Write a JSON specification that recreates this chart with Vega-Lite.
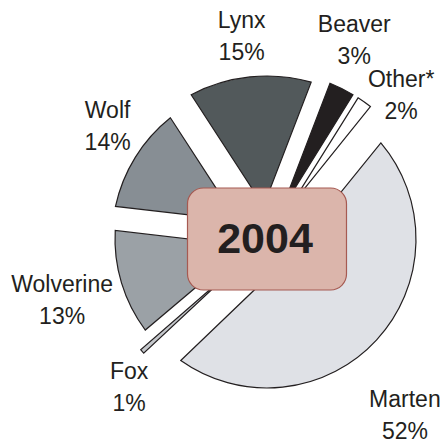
{
  "$schema": "https://vega.github.io/schema/vega-lite/v6.json",
  "width": 300,
  "height": 300,
  "autosize": {"type": "none"},
  "padding": {"left": 117, "top": 89, "right": 26, "bottom": 54},
  "background": "white",
  "view": {"stroke": null},
  "config": {"font": "Liberation Sans", "text": {"fontSize": 23, "color": "#231f20", "baseline": "middle", "align": "center"}},
  "data": {
    "values": [
      {"animal": "Lynx", "share": 0.15, "rank": 1},
      {"animal": "Beaver", "share": 0.03, "rank": 2},
      {"animal": "Other*", "share": 0.02, "rank": 3},
      {"animal": "Marten", "share": 0.52, "rank": 4},
      {"animal": "Fox", "share": 0.01, "rank": 5},
      {"animal": "Wolverine", "share": 0.13, "rank": 6},
      {"animal": "Wolf", "share": 0.14, "rank": 7}
    ]
  },
  "layer": [
    {
      "encoding": {
        "theta": {"field": "share", "type": "quantitative", "stack": true, "scale": {"domain": [0, 1], "range": [-0.57596, 5.70723]}},
        "order": {"field": "rank", "type": "quantitative"},
        "detail": {"field": "animal", "type": "nominal"}
      },
      "layer": [
        {
          "mark": {"type": "arc", "radius": 163, "radius2": 40, "padAngle": 0.179, "stroke": "#231f20", "strokeWidth": 1.2},
          "encoding": {
            "color": {"field": "animal", "type": "nominal", "legend": null, "scale": {"domain": ["Lynx", "Beaver", "Other*", "Marten", "Fox", "Wolverine", "Wolf"], "range": ["#52595b", "#231f20", "#ffffff", "#dfe1e6", "#c5c8cc", "#9ba1a6", "#878e94"]}},
            "opacity": {"condition": {"test": "datum.animal === 'Lynx'", "value": 1}, "value": 0}
          }
        },
        {
          "mark": {"type": "arc", "radius": 155, "radius2": 40, "padAngle": 0.1877, "stroke": "#231f20", "strokeWidth": 1.2},
          "encoding": {
            "color": {"field": "animal", "type": "nominal", "legend": null},
            "opacity": {"condition": {"test": "datum.animal === 'Wolf'", "value": 1}, "value": 0}
          }
        },
        {
          "mark": {"type": "arc", "radius": 152, "radius2": 40, "padAngle": 0.1146, "stroke": "#231f20", "strokeWidth": 1.2},
          "encoding": {
            "color": {"field": "animal", "type": "nominal", "legend": null},
            "opacity": {"condition": {"test": "datum.animal === 'Wolverine'", "value": 1}, "value": 0}
          }
        },
        {
          "mark": {"type": "arc", "radius": 168, "radius2": 40, "padAngle": 0.0347, "stroke": "#231f20", "strokeWidth": 1.2},
          "encoding": {
            "color": {"field": "animal", "type": "nominal", "legend": null},
            "opacity": {"condition": {"test": "indexof(['Beaver','Other*','Fox'], datum.animal) >= 0", "value": 1}, "value": 0}
          }
        },
        {
          "mark": {"type": "arc", "radius": 149, "radius2": 40, "padAngle": 0.365, "stroke": "#231f20", "strokeWidth": 1.2},
          "encoding": {
            "color": {"field": "animal", "type": "nominal", "legend": null},
            "opacity": {"condition": {"test": "datum.animal === 'Marten'", "value": 1}, "value": 0}
          }
        },
        {
          "mark": {"type": "text", "radius": 204, "thetaOffset": -0.02, "dy": -16},
          "encoding": {"text": {"condition": {"test": "datum.animal === 'Lynx'", "field": "animal", "type": "nominal"}, "value": ""}}
        },
        {
          "mark": {"type": "text", "radius": 204, "thetaOffset": -0.02, "dy": 16},
          "encoding": {"text": {"condition": {"test": "datum.animal === 'Lynx'", "field": "share", "type": "quantitative", "format": ".0%"}, "value": ""}}
        },
        {
          "mark": {"type": "text", "radius": 214, "dy": -16},
          "encoding": {"text": {"condition": {"test": "datum.animal === 'Wolverine'", "field": "animal", "type": "nominal"}, "value": ""}}
        },
        {
          "mark": {"type": "text", "radius": 214, "dy": 16},
          "encoding": {"text": {"condition": {"test": "datum.animal === 'Wolverine'", "field": "share", "type": "quantitative", "format": ".0%"}, "value": ""}}
        },
        {
          "mark": {"type": "text", "radius": 216, "thetaOffset": -0.045, "dy": -16},
          "encoding": {"text": {"condition": {"test": "datum.animal === 'Beaver'", "field": "animal", "type": "nominal"}, "value": ""}}
        },
        {
          "mark": {"type": "text", "radius": 216, "thetaOffset": -0.045, "dy": 16},
          "encoding": {"text": {"condition": {"test": "datum.animal === 'Beaver'", "field": "share", "type": "quantitative", "format": ".0%"}, "value": ""}}
        },
        {
          "mark": {"type": "text", "radius": 196, "thetaOffset": 0.136, "dy": -16},
          "encoding": {"text": {"condition": {"test": "datum.animal === 'Other*'", "field": "animal", "type": "nominal"}, "value": ""}}
        },
        {
          "mark": {"type": "text", "radius": 196, "thetaOffset": 0.136, "dy": 16},
          "encoding": {"text": {"condition": {"test": "datum.animal === 'Other*'", "field": "share", "type": "quantitative", "format": ".0%"}, "value": ""}}
        },
        {
          "mark": {"type": "text", "radius": 224, "thetaOffset": 0.164, "dy": -16},
          "encoding": {"text": {"condition": {"test": "datum.animal === 'Marten'", "field": "animal", "type": "nominal"}, "value": ""}}
        },
        {
          "mark": {"type": "text", "radius": 224, "thetaOffset": 0.164, "dy": 16},
          "encoding": {"text": {"condition": {"test": "datum.animal === 'Marten'", "field": "share", "type": "quantitative", "format": ".0%"}, "value": ""}}
        },
        {
          "mark": {"type": "text", "radius": 203, "thetaOffset": -0.091, "dy": -16},
          "encoding": {"text": {"condition": {"test": "datum.animal === 'Fox'", "field": "animal", "type": "nominal"}, "value": ""}}
        },
        {
          "mark": {"type": "text", "radius": 203, "thetaOffset": -0.091, "dy": 16},
          "encoding": {"text": {"condition": {"test": "datum.animal === 'Fox'", "field": "share", "type": "quantitative", "format": ".0%"}, "value": ""}}
        },
        {
          "mark": {"type": "text", "radius": 195, "thetaOffset": 0.059, "dy": -16},
          "encoding": {"text": {"condition": {"test": "datum.animal === 'Wolf'", "field": "animal", "type": "nominal"}, "value": ""}}
        },
        {
          "mark": {"type": "text", "radius": 195, "thetaOffset": 0.059, "dy": 16},
          "encoding": {"text": {"condition": {"test": "datum.animal === 'Wolf'", "field": "share", "type": "quantitative", "format": ".0%"}, "value": ""}}
        }
      ]
    },
    {
      "data": {"values": [{"year": "2004"}]},
      "layer": [
        {
          "mark": {
            "type": "point",
            "shape": "M -0.8 -0.6415 L 0.8 -0.6415 A 0.2 0.2 0 0 1 1 -0.4415 L 1 0.4415 A 0.2 0.2 0 0 1 0.8 0.6415 L -0.8 0.6415 A 0.2 0.2 0 0 1 -1 0.4415 L -1 -0.4415 A 0.2 0.2 0 0 1 -0.8 -0.6415 Z",
            "size": 25281,
            "filled": true,
            "fill": "#dbb5ab",
            "stroke": "#a65a52",
            "strokeWidth": 1.2,
            "opacity": 1
          },
          "encoding": {}
        },
        {
          "mark": {"type": "text", "fontSize": 43, "fontWeight": "bold", "dx": -2, "dy": 1},
          "encoding": {"text": {"field": "year", "type": "nominal"}}
        }
      ]
    }
  ]
}
